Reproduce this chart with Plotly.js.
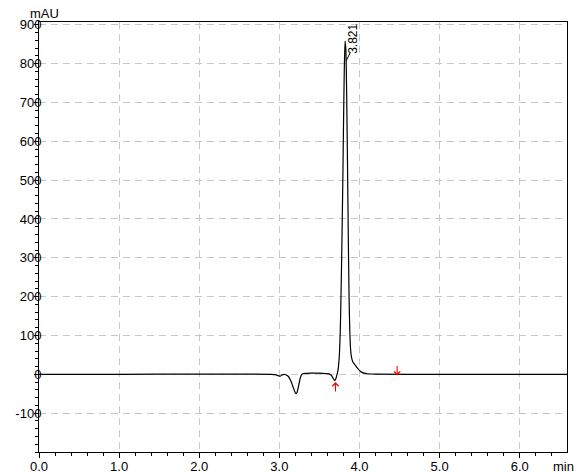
<!DOCTYPE html>
<html>
<head>
<meta charset="utf-8">
<script src="https://cdn.plot.ly/plotly-3.0.1.min.js"></script>
<style>
html,body{margin:0;padding:0;background:#fff;}
#chart{width:581px;height:474px;}
</style>
</head>
<body>
<div id="chart"></div>
<script>
// Retention time (min)
const time = [
  0.00, 1.00, 2.00, 2.90, 2.95, 2.99, 3.01, 3.03, 3.06, 3.08, 3.11, 3.14, 3.17, 3.20, 3.21, 3.22, 3.24, 3.26, 3.28, 3.30,
  3.40, 3.50, 3.58, 3.62, 3.65, 3.67, 3.69, 3.70, 3.71, 3.72, 3.73, 3.74, 3.75, 3.76, 3.77, 3.78, 3.79, 3.80, 3.81, 3.82,
  3.83, 3.84, 3.85, 3.86, 3.87, 3.88, 3.89, 3.90, 3.91, 3.92, 3.93, 3.95, 3.97, 3.99, 4.01, 4.03, 4.06, 4.10, 4.20, 5.00,
  6.00, 6.60
];
// Detector signal (mAU)
const signal = [
  0, 0, 0.5, 0, -1, -4, -5, -2, 0, -1, -5, -15, -32, -48, -50, -47, -30, -10, 0, 2,
  3, 3, 2, 1, -3, -10, -16, -14, -8, 0, 8, 25, 55, 110, 210, 330, 470, 630, 780, 858,
  835, 720, 550, 360, 200, 105, 62, 44, 36, 31, 28, 23, 17, 12, 8, 5, 3, 1.5, 0.5, 0,
  0, 0
];

const xTickVals = [0, 1, 2, 3, 4, 5, 6];
const xTickText = ['0.0', '1.0', '2.0', '3.0', '4.0', '5.0', '6.0'];
const yTickVals = [-100, 0, 100, 200, 300, 400, 500, 600, 700, 800, 900];
const yTickText = ['-100', '0', '100', '200', '300', '400', '500', '600', '700', '800', '900'];

const peakTime = 3.821;
const peakLabel = '3.821';
const peakApex = 858;
const integStart = {t: 3.70, v: -20};
const integEnd = {t: 4.47, v: -3};

const font = {family: 'Liberation Sans, Arial, sans-serif', size: 13, color: '#000'};

const trace = {
  x: time, y: signal, type: 'scatter', mode: 'lines',
  line: {color: '#000', width: 1.2, shape: 'spline', smoothing: 0.6},
  hoverinfo: 'skip'
};

const layout = {
  width: 581, height: 474,
  margin: {l: 39, r: 14, t: 22, b: 22},
  paper_bgcolor: '#fff', plot_bgcolor: '#fff',
  showlegend: false,
  font: font,
  xaxis: {
    range: [0, 6.59], tickvals: xTickVals, ticktext: xTickText,
    ticks: 'outside', ticklen: 5, tickwidth: 1, tickcolor: '#000',
    ticklabelstandoff: -3,
    showline: true, linecolor: '#000', linewidth: 1, mirror: true,
    showgrid: true, gridcolor: '#c8c8c8', gridwidth: 1, griddash: '7px,5px',
    zeroline: false, tickfont: font,
    minor: {dtick: 0.2, ticks: 'outside', ticklen: 3, tickcolor: '#000', showgrid: false}
  },
  yaxis: {
    range: [-200, 907], tickvals: yTickVals, ticktext: yTickText,
    ticks: 'outside', ticklen: 4, tickwidth: 1, tickcolor: '#000',
    ticklabelstandoff: -10,
    showline: true, linecolor: '#000', linewidth: 1, mirror: true,
    showgrid: true, gridcolor: '#c8c8c8', gridwidth: 1, griddash: '7px,5px',
    zeroline: false, tickfont: font,
    minor: {dtick: 20, ticks: 'outside', ticklen: 3, tickcolor: '#000', showgrid: false}
  },
  shapes: [
    {type: 'line', xref: 'x', yref: 'y', x0: peakTime + 0.013, y0: peakApex - 51, x1: peakTime + 0.063, y1: peakApex - 30,
     line: {color: '#000', width: 1}}
  ],
  annotations: [
    {xref: 'x', yref: 'y', x: peakTime, y: peakApex + 6, xshift: 8, text: peakLabel, textangle: -90,
     showarrow: false, font: {family: font.family, size: 12, color: '#000'}},
    {xref: 'paper', yref: 'paper', x: 0.01, y: 1, yshift: 9, xanchor: 'center', yanchor: 'middle',
     text: 'mAU', showarrow: false, font: font},
    {xref: 'paper', yref: 'paper', x: 1, y: 0, xshift: -4, yshift: -14, xanchor: 'center', yanchor: 'middle',
     text: 'min', showarrow: false, font: font},
    {xref: 'x', yref: 'y', x: integStart.t, y: integStart.v, ax: 0, ay: 11, text: '', showarrow: true,
     arrowhead: 4, arrowsize: 1.1, arrowwidth: 1.1, arrowcolor: '#ff0000'},
    {xref: 'x', yref: 'y', x: integEnd.t, y: integEnd.v, ax: 0, ay: -11, text: '', showarrow: true,
     arrowhead: 4, arrowsize: 1.1, arrowwidth: 1.1, arrowcolor: '#ff0000'}
  ]
};

Plotly.newPlot('chart', [trace], layout, {staticPlot: true, displayModeBar: false});
</script>
</body>
</html>
